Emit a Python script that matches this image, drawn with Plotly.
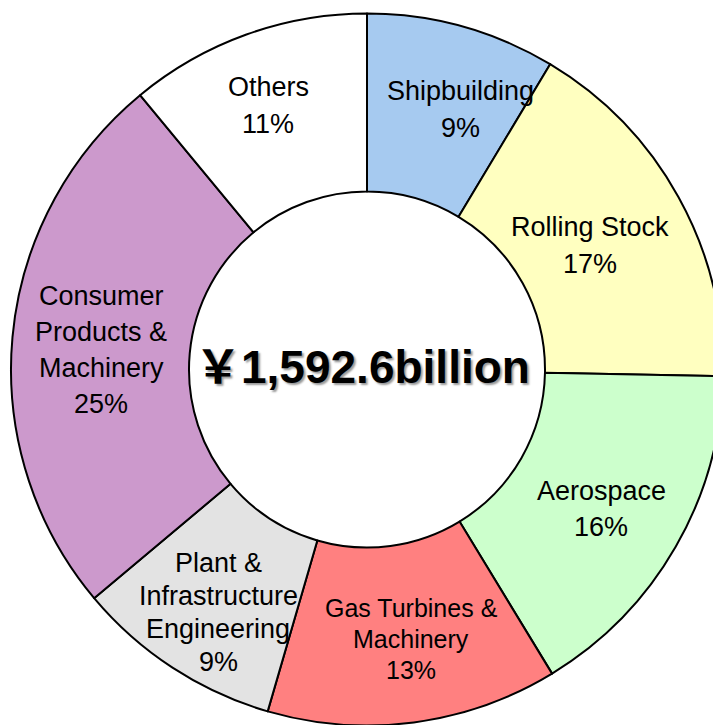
import plotly.graph_objects as go

segments = ["Shipbuilding", "Rolling Stock", "Aerospace", "Gas Turbines & Machinery",
            "Plant & Infrastructure Engineering", "Consumer Products & Machinery", "Others"]
shares = [8.6, 16.7, 16.0, 13.2, 9.4, 25.1, 11.0]          # estimated shares (%)
share_labels = ["9%", "17%", "16%", "13%", "9%", "25%", "11%"]  # printed labels
colors = ["#A6CAF0", "#FFFFC0", "#CCFFCC", "#FF8080", "#E3E3E3", "#CC99CC", "#FFFFFF"]
label_lines = [["Shipbuilding"], ["Rolling Stock"], ["Aerospace"], ["Gas Turbines &", "Machinery"],
               ["Plant &", "Infrastructure", "Engineering"], ["Consumer", "Products &", "Machinery"], ["Others"]]
total_text = "￥1,592.6billion"

W, H = 721, 725
OFF = 8  # page body margin offset
# label anchor (page pixel) positions of first line, line spacing, font size
label_pos = [(460, 91, 37, 27), (590, 227, 37, 27), (601, 491, 36, 27), (411, 608, 31, 25),
             (218, 563, 33, 27), (101, 296, 36, 27), (268, 87, 37, 27)]

def px2paper(px, py):
    return (px - OFF) / W, 1 - (py - OFF) / H

fig = go.Figure(go.Pie(
    labels=segments, values=shares, hole=0.5, sort=False, direction="clockwise", rotation=0,
    marker=dict(colors=colors, line=dict(color="#000000", width=2)),
    textinfo="none", hoverinfo="label+percent", showlegend=False,
    domain=dict(x=[(11 - OFF) / W, (723 - OFF) / W], y=[1 - (725.5 - OFF) / H, 1 - (13.5 - OFF) / H]),
))

ann = []
for lines, sl, (px, py, sp, fs) in zip(label_lines, share_labels, label_pos):
    all_lines = lines + [sl]
    for i, t in enumerate(all_lines):
        x, y = px2paper(px, py + i * sp)
        ann.append(dict(x=x, y=y, xref="paper", yref="paper", text=t, showarrow=False,
                        font=dict(family="Liberation Sans, Noto Sans CJK JP", size=fs, color="#000000"),
                        xanchor="center", yanchor="middle"))
cx, cy = px2paper(362, 367)
ann.append(dict(x=cx, y=cy, xref="paper", yref="paper", text=f"<b>{total_text}</b>",
                showarrow=False, xanchor="center", yanchor="middle",
                font=dict(family="Liberation Sans, Noto Sans CJK JP", size=46, color="#000000",
                          shadow="2px 2px 2px #9a9a9a")))

fig.update_layout(width=W, height=H, margin=dict(l=0, r=0, t=0, b=0),
                  paper_bgcolor="#FFFFFF", plot_bgcolor="#FFFFFF", annotations=ann)
fig.write_html("out.html")
